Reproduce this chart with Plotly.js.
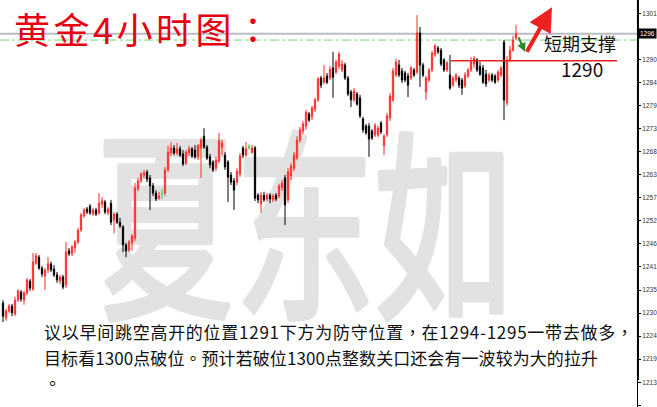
<!DOCTYPE html>
<html>
<head>
<meta charset="utf-8">
<script src="https://cdn.plot.ly/plotly-3.0.1.min.js"></script>
<style>
  html, body { margin: 0; padding: 0; background: #fff; }
  #chart { width: 657px; height: 407px; }
</style>
</head>
<body>
<div id="chart"></div>
<script>
// 4-hour gold bars (USD/oz), oldest first
const opens = [
  1232.5, 1229.0, 1230.6, 1231.8, 1229.9, 1233.2, 1235.1, 1233.2, 1234.9, 1237.7,
  1235.8, 1242.0, 1243.4, 1240.8, 1238.9, 1240.4, 1241.8, 1240.6, 1239.2, 1237.7,
  1238.7, 1236.8, 1244.9, 1244.2, 1245.6, 1247.0, 1249.8, 1253.2, 1254.8, 1255.5,
  1253.6, 1254.6, 1253.9, 1256.0, 1256.5, 1253.9, 1256.2, 1252.2, 1253.6, 1251.7,
  1250.6, 1246.3, 1245.1, 1246.8, 1247.9, 1259.6, 1261.5, 1262.9, 1263.6, 1262.2,
  1260.3, 1258.6, 1257.4, 1258.4, 1258.6, 1264.1, 1268.1, 1269.3, 1268.1, 1269.1,
  1267.9, 1265.7, 1268.1, 1269.1, 1268.8, 1267.2, 1269.3, 1272.1, 1269.5, 1267.2,
  1266.0, 1264.5, 1266.2, 1269.5, 1267.6, 1266.0, 1262.9, 1261.5, 1261.2, 1263.1,
  1269.3, 1267.6, 1269.5, 1268.3, 1269.3, 1258.1, 1256.0, 1258.1, 1257.2, 1258.1,
  1257.0, 1258.1, 1257.9, 1259.8, 1262.2, 1257.0, 1262.7, 1264.5, 1266.9, 1271.2,
  1273.3, 1274.5, 1277.4, 1276.7, 1278.5, 1280.7, 1285.9, 1284.9, 1286.4, 1285.9,
  1288.3, 1287.3, 1288.7, 1287.8, 1289.0, 1285.9, 1282.6, 1280.7, 1282.1, 1281.2,
  1276.2, 1274.5, 1274.5, 1273.3, 1272.4, 1272.4, 1275.2, 1269.8, 1272.4, 1276.4,
  1280.7, 1286.6, 1289.0, 1287.6, 1287.1, 1286.4, 1285.9, 1287.8, 1287.3, 1296.6,
  1289.0, 1282.6, 1285.4, 1287.8, 1291.4, 1293.0, 1292.5, 1290.2, 1287.8, 1286.6,
  1284.2, 1285.4, 1285.9, 1285.4, 1284.0, 1286.4, 1287.8, 1289.2, 1290.2, 1288.7,
  1288.3, 1286.8, 1285.4, 1286.6, 1286.4, 1285.4, 1286.6, 1294.4, 1280.0, 1290.2,
  1292.5, 1295.4
];
const highs = [
  1233.2, 1231.1, 1232.3, 1232.3, 1234.0, 1235.8, 1235.6, 1235.4, 1238.5, 1238.2,
  1244.4, 1244.4, 1243.9, 1241.3, 1240.8, 1243.4, 1242.3, 1241.5, 1239.9, 1239.2,
  1239.2, 1247.0, 1245.6, 1246.3, 1247.5, 1250.3, 1253.9, 1255.1, 1255.3, 1256.0,
  1255.1, 1255.1, 1258.6, 1257.7, 1257.0, 1255.3, 1257.0, 1254.1, 1254.1, 1252.7,
  1251.0, 1246.8, 1247.5, 1248.9, 1261.0, 1262.2, 1263.6, 1264.1, 1264.1, 1262.9,
  1261.0, 1259.3, 1258.9, 1259.6, 1264.8, 1269.8, 1270.7, 1270.0, 1270.5, 1269.8,
  1268.8, 1268.8, 1269.8, 1269.5, 1270.0, 1270.2, 1271.7, 1274.0, 1270.0, 1267.9,
  1266.4, 1267.2, 1272.9, 1271.2, 1268.3, 1266.4, 1263.6, 1262.2, 1264.5, 1268.1,
  1269.8, 1270.7, 1270.2, 1270.0, 1269.8, 1258.6, 1258.9, 1258.9, 1258.6, 1258.6,
  1258.4, 1258.6, 1260.8, 1261.7, 1262.9, 1264.5, 1265.7, 1268.3, 1272.1, 1274.3,
  1275.7, 1278.3, 1277.8, 1279.3, 1281.2, 1286.1, 1286.4, 1289.0, 1287.1, 1288.7,
  1292.1, 1290.2, 1292.1, 1290.2, 1289.5, 1286.4, 1283.1, 1283.5, 1282.6, 1281.9,
  1276.7, 1275.0, 1275.2, 1273.8, 1275.2, 1274.5, 1275.7, 1272.6, 1277.6, 1282.3,
  1288.3, 1290.4, 1290.2, 1288.3, 1287.6, 1287.1, 1288.7, 1288.3, 1300.8, 1298.0,
  1289.5, 1286.4, 1288.3, 1292.3, 1294.0, 1293.5, 1293.0, 1290.6, 1289.9, 1291.4,
  1286.4, 1287.1, 1286.4, 1285.9, 1287.3, 1288.3, 1290.9, 1291.1, 1290.6, 1289.7,
  1289.0, 1287.8, 1287.1, 1287.1, 1286.8, 1287.8, 1288.7, 1294.9, 1291.1, 1293.5,
  1295.9, 1298.5
];
const lows = [
  1228.0, 1228.3, 1230.2, 1229.4, 1229.4, 1232.8, 1232.8, 1232.1, 1234.4, 1235.4,
  1235.4, 1241.5, 1240.4, 1238.7, 1235.6, 1239.6, 1239.9, 1238.7, 1237.3, 1237.0,
  1235.8, 1236.1, 1243.7, 1243.7, 1244.4, 1246.5, 1249.4, 1252.7, 1253.6, 1253.4,
  1253.2, 1253.2, 1253.4, 1255.1, 1253.6, 1253.4, 1251.0, 1249.1, 1251.3, 1250.3,
  1244.6, 1243.4, 1244.6, 1244.9, 1247.2, 1259.1, 1261.0, 1262.2, 1261.2, 1254.6,
  1257.9, 1256.7, 1257.0, 1257.2, 1257.9, 1263.6, 1267.4, 1267.6, 1267.6, 1267.2,
  1265.0, 1265.3, 1267.4, 1266.9, 1266.7, 1266.4, 1262.2, 1269.1, 1266.4, 1264.5,
  1263.6, 1263.8, 1265.7, 1267.6, 1264.1, 1256.5, 1260.5, 1254.6, 1260.5, 1262.4,
  1266.9, 1267.2, 1268.8, 1267.9, 1256.7, 1256.2, 1253.9, 1256.5, 1256.7, 1256.2,
  1256.5, 1256.7, 1257.4, 1259.1, 1251.0, 1256.2, 1261.7, 1263.8, 1266.4, 1270.5,
  1272.6, 1273.6, 1275.5, 1275.9, 1277.8, 1280.2, 1283.5, 1284.5, 1284.5, 1285.4,
  1281.2, 1286.8, 1288.0, 1287.3, 1285.4, 1281.6, 1279.0, 1280.2, 1279.3, 1276.4,
  1272.9, 1272.4, 1267.2, 1271.2, 1271.9, 1271.9, 1272.6, 1267.6, 1271.9, 1275.7,
  1280.2, 1286.1, 1286.1, 1284.7, 1284.9, 1281.4, 1285.4, 1286.1, 1286.8, 1283.8,
  1286.1, 1280.7, 1284.9, 1287.3, 1290.9, 1291.6, 1288.7, 1287.3, 1287.3, 1283.1,
  1283.8, 1284.9, 1283.5, 1281.9, 1283.5, 1285.9, 1287.3, 1288.3, 1287.3, 1286.4,
  1284.5, 1283.8, 1284.9, 1284.9, 1284.5, 1284.9, 1286.1, 1275.9, 1279.3, 1289.7,
  1292.1, 1294.9
];
const closes = [
  1229.4, 1230.6, 1231.8, 1230.2, 1233.2, 1235.4, 1233.5, 1234.9, 1238.0, 1236.1,
  1242.3, 1243.7, 1240.8, 1239.4, 1240.4, 1241.8, 1240.4, 1239.2, 1238.0, 1238.7,
  1236.3, 1244.6, 1244.2, 1245.8, 1247.0, 1249.8, 1253.4, 1254.6, 1254.1, 1253.9,
  1254.6, 1253.6, 1256.2, 1256.7, 1254.1, 1254.8, 1251.7, 1253.6, 1251.7, 1250.8,
  1246.3, 1244.9, 1247.0, 1248.4, 1259.8, 1261.5, 1263.1, 1263.4, 1261.9, 1260.3,
  1258.6, 1257.2, 1257.9, 1258.4, 1264.1, 1268.3, 1269.3, 1268.1, 1269.1, 1267.6,
  1265.5, 1268.3, 1269.1, 1267.4, 1267.2, 1269.8, 1271.2, 1269.5, 1266.9, 1265.3,
  1264.1, 1266.4, 1271.0, 1270.5, 1264.8, 1262.4, 1261.2, 1259.3, 1263.8, 1267.4,
  1267.6, 1269.1, 1269.5, 1269.3, 1257.4, 1257.0, 1258.1, 1257.0, 1258.1, 1257.2,
  1257.9, 1257.2, 1260.3, 1261.0, 1255.8, 1263.6, 1265.0, 1267.6, 1271.2, 1273.6,
  1275.0, 1277.8, 1275.9, 1278.8, 1280.7, 1285.7, 1284.2, 1285.9, 1284.9, 1288.0,
  1286.1, 1289.7, 1291.6, 1289.2, 1285.9, 1282.1, 1280.7, 1282.8, 1279.7, 1276.9,
  1273.6, 1272.9, 1271.4, 1271.7, 1274.7, 1274.0, 1273.1, 1272.1, 1276.9, 1281.6,
  1287.6, 1289.7, 1286.6, 1285.4, 1285.4, 1284.2, 1288.3, 1286.6, 1296.6, 1289.0,
  1286.6, 1285.9, 1287.8, 1291.8, 1293.5, 1292.1, 1289.2, 1287.8, 1289.5, 1283.5,
  1285.9, 1286.6, 1284.2, 1283.5, 1286.6, 1287.8, 1289.7, 1290.6, 1287.8, 1286.8,
  1284.9, 1284.5, 1286.6, 1285.4, 1284.9, 1287.3, 1288.3, 1280.7, 1290.2, 1292.5,
  1294.9, 1296.4
];

// Price scale labels on the right-hand axis
const tickVals = [1301.25, 1295.78, 1290.31, 1284.84, 1279.37, 1273.90, 1268.43, 1262.96, 1257.49,
                  1252.02, 1246.55, 1241.08, 1235.61, 1230.14, 1224.67, 1219.20, 1213.73, 1208.26];
const tickText = ['1301', '', '1290', '1284', '1279', '1273', '1268', '1263', '1257',
                  '1252', '1246', '1241', '1235', '1230', '1224', '1219', '1213', '1208'];

// Marked levels
const supportLevel = 1290;      // 短期支撑
const entryLevel = 1294.9;      // dash-dot level line
const titleText = '黄金4小时图：';
const supportText = '短期支撑';
const commentLines = [
  '议以早间跳空高开的位置1291下方为防守位置，在1294-1295一带去做多，',
  '目标看1300点破位。预计若破位1300点整数关口还会有一波较为大的拉升',
  '。'
];
const watermarkText = '夏东如';

const W = 657, H = 407, ML = 0, MR = 20;
const PW = W - ML - MR;
const px = x => x / PW;          // plot-pixel -> paper x
const py = y => 1 - y / H;       // plot-pixel -> paper y
const commentWidths = [589, 554];  // line lengths of the note block, px
const commentY = [331, 357, 382];

const idx = closes.map((_, i) => i);
const lastClose = closes[closes.length - 1];
const isDoji = i => opens[i] === closes[i];
const pick = (arr, keep) => idx.filter(keep).map(i => arr[i]);
const normal = i => !isDoji(i);

const bars = {
  type: 'candlestick',
  x: idx.filter(normal),
  open: pick(opens, normal), high: pick(highs, normal),
  low: pick(lows, normal), close: pick(closes, normal),
  increasing: { line: { color: '#ff2a2a', width: 1 }, fillcolor: '#ff8585' },
  decreasing: { line: { color: '#000000', width: 1 }, fillcolor: '#000000' },
  whiskerwidth: 0,
  hoverinfo: 'skip',
  showlegend: false
};
const dojis = {
  type: 'candlestick',
  x: idx.filter(isDoji),
  open: pick(opens, isDoji), high: pick(highs, isDoji),
  low: pick(lows, isDoji), close: pick(closes, isDoji),
  increasing: { line: { color: '#22dd22', width: 1 }, fillcolor: '#22dd22' },
  decreasing: { line: { color: '#22dd22', width: 1 }, fillcolor: '#22dd22' },
  whiskerwidth: 0,
  hoverinfo: 'skip',
  showlegend: false
};

const cjk = '"Noto Sans CJK TC", "Noto Sans CJK SC", sans-serif';
const axisFont = '"Liberation Sans", Arial, sans-serif';
const watermarkGray = '#e2e2e2';

const layout = {
  width: W, height: H,
  margin: { l: ML, r: MR, t: 0, b: 0, pad: 0 },
  paper_bgcolor: '#ffffff',
  plot_bgcolor: '#ffffff',
  showlegend: false,
  boxgap: 0.4,
  xaxis: {
    range: [-1, PW / 3 - 1],
    visible: false,
    rangeslider: { visible: false },
    fixedrange: true
  },
  yaxis: {
    side: 'right',
    range: [1207.86, 1304.4],
    tickmode: 'array',
    tickvals: tickVals,
    ticktext: tickText,
    ticks: 'outside',
    ticklen: 3,
    tickcolor: '#000',
    tickfont: { family: axisFont, size: 6.5, color: '#333' },
    showgrid: false,
    zeroline: false,
    showline: true,
    linecolor: '#000',
    linewidth: 1,
    fixedrange: true
  },
  shapes: [
    // watermark
    {
      type: 'rect', xref: 'paper', yref: 'paper', layer: 'below',
      x0: px(92), x1: px(518), y0: py(338), y1: py(138),
      line: { width: 0 }, fillcolor: 'rgba(0,0,0,0)',
      label: {
        text: watermarkText, textposition: 'middle center',
        font: { family: cjk, size: 140, color: watermarkGray }
      }
    },
    // last price line
    {
      type: 'line', xref: 'paper', yref: 'y', layer: 'below',
      x0: 0, x1: 1, y0: lastClose, y1: lastClose,
      line: { color: '#b9bcc4', width: 2 }
    },
    // dash-dot level line
    {
      type: 'line', xref: 'paper', yref: 'y', layer: 'below',
      x0: 0, x1: 1, y0: entryLevel, y1: entryLevel,
      line: { color: '#70dc70', width: 1, dash: 'dashdot' }
    },
    // support line
    {
      type: 'line', xref: 'x', yref: 'y',
      x0: 149.3, x1: 204.7, y0: supportLevel, y1: supportLevel,
      line: { color: '#e82020', width: 1.5 }
    },
    // heavier upper part of the price axis
    {
      type: 'line', xref: 'paper', yref: 'paper',
      x0: 1.0015, x1: 1.0015, y0: py(380), y1: 1,
      line: { color: '#000', width: 2 }
    }
  ],
  annotations: [
    {
      xref: 'paper', yref: 'paper', x: px(12), y: py(28),
      xanchor: 'left', yanchor: 'middle', align: 'left', showarrow: false,
      text: titleText,
      font: { family: cjk, size: 36, color: '#e60012' }
    },
    {
      xref: 'paper', yref: 'paper', x: px(580), y: py(43),
      xanchor: 'center', yanchor: 'middle', showarrow: false,
      text: supportText,
      font: { family: cjk, size: 18, color: '#111' }
    },
    {
      xref: 'paper', yref: 'paper', x: px(582), y: py(68),
      xanchor: 'center', yanchor: 'middle', showarrow: false,
      text: String(supportLevel),
      font: { family: cjk, size: 19, color: '#111' }
    },
    // arrows
    {
      xref: 'x', yref: 'y', x: 174, y: 1292.1, ax: -7, ay: -16,
      showarrow: true, text: '', arrowhead: 2, arrowsize: 0.8,
      arrowwidth: 2.2, arrowcolor: '#2a8a2a'
    },
    {
      xref: 'x', yref: 'y', x: 183, y: 1302.7, ax: -26, ay: 46,
      showarrow: true, text: '', arrowhead: 2, arrowsize: 1.2,
      arrowwidth: 4, arrowcolor: '#ee2020'
    },
    // last price tag
    {
      xref: 'paper', yref: 'y', x: 1, y: lastClose,
      xanchor: 'left', yanchor: 'middle', xshift: 1, showarrow: false,
      text: String(Math.floor(lastClose)),
      bgcolor: '#000', borderpad: 1,
      font: { family: axisFont, size: 6.5, color: '#fff' }
    }
  ].concat(commentLines.map((t, k) => ({
    xref: 'paper', yref: 'paper', x: px(42), y: py(commentY[k]),
    xanchor: 'left', yanchor: 'middle', align: 'left', showarrow: false,
    text: t,
    font: { family: cjk, size: 17, color: '#111' }
  })))
};

Plotly.newPlot('chart', [bars, dojis], layout, { displayModeBar: false, staticPlot: true })
  .then(gd => {
    gd.querySelectorAll('text').forEach(t => {
      const s = t.textContent;
      if (s === watermarkText) {
        // tall, narrow watermark lettering with slightly heavier strokes
        const b = t.getBBox();
        const cx = b.x + b.width / 2, cy = b.y + b.height / 2;
        const prev = t.getAttribute('transform') || '';
        t.setAttribute('transform',
          `translate(${cx},${cy}) scale(1,1.45) translate(${-cx},${-cy}) ${prev}`);
        t.style.stroke = watermarkGray;
        t.style.strokeWidth = '4px';
        t.style.strokeLinejoin = 'round';
      } else if (s === titleText) {
        t.style.letterSpacing = '3.5px';
      } else {
        const k = commentLines.indexOf(s);
        if (k >= 0 && commentWidths[k]) {
          const L = t.getComputedTextLength();
          t.style.letterSpacing = ((commentWidths[k] - L) / (s.length - 1)) + 'px';
        }
      }
    });
  });
</script>
</body>
</html>
